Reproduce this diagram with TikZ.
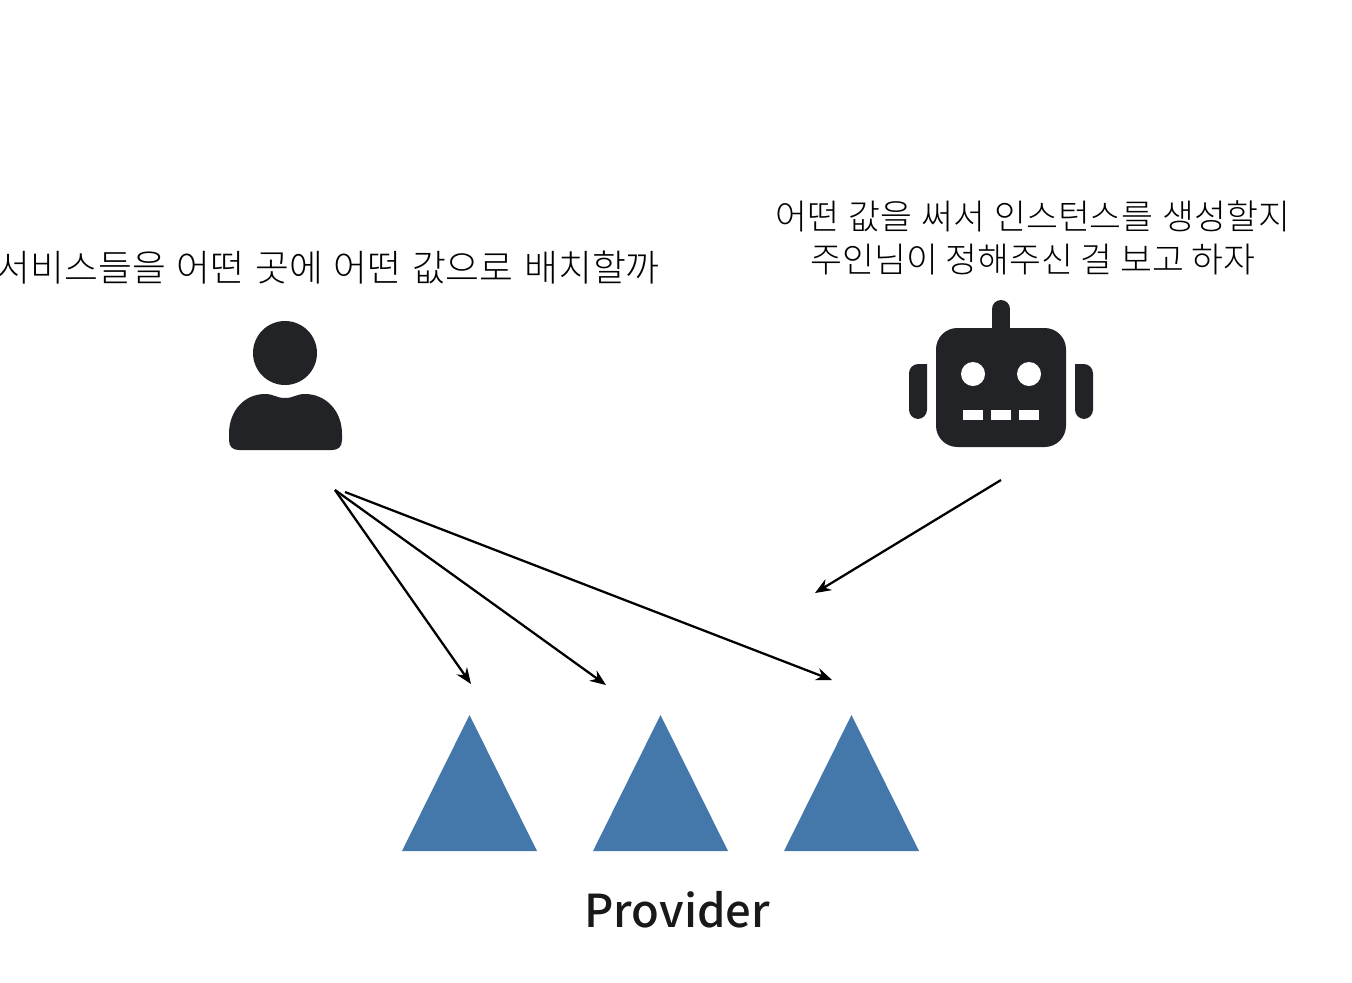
\documentclass[tikz,border=0pt]{standalone}
\usepackage{fontspec}
\newfontfamily\korean{Noto Sans CJK KR Light}
\newfontfamily\latinbold{Noto Sans CJK KR Medium}
\usetikzlibrary{arrows.meta}
\definecolor{iconblack}{RGB}{33,35,39}
\definecolor{triblue}{RGB}{68,120,171}
\tikzset{
  saying/.style={text=black, align=center, inner sep=0pt},
  pointer/.style={-{Stealth[length=12pt,width=9.5pt]}, line width=1.7pt, black},
}

\begin{document}
\begin{tikzpicture}[x=0.75pt,y=-0.75pt]
    \useasboundingbox (0,0) rectangle (1352,982);
    % Speech of the person and of the robot
    \node[saying, anchor=east, font=\korean\fontsize{27.6}{32}\selectfont] (sayperson) at (660,268) {\spaceskip 8pt\relax 서비스들을 어떤 곳에 어떤 값으로 배치할까};
    \node[saying, font=\korean\fontsize{26}{32}\selectfont] (sayrobot) at (1033,238) {\spaceskip 6.8pt\relax 어떤 값을 써서 인스턴스를 생성할지\\주인님이 정해주신 걸 보고 하자};
    % Person icon
    \fill[iconblack] (285,353) circle (32);
    \fill[iconblack] (229,434) .. controls (229,410) and (245,394) .. (265,394)
      .. controls (274,394) and (276,398) .. (285,398)
      .. controls (294,398) and (296,394) .. (305,394)
      .. controls (325,394) and (342,410) .. (342,434)
      -- (342,440) .. controls (342,447) and (338,450) .. (332,450)
      -- (239,450) .. controls (233,450) and (229,447) .. (229,440) -- cycle;
    % Robot icon
    \fill[iconblack, rounded corners=16] (936,328) rectangle (1066,447);
    \draw[iconblack, line width=13.5pt, line cap=round] (1001,309) -- (1001,335);
    \fill[iconblack, rounded corners=7] (927,364) -- (909,364) -- (909,419) -- (927,419) [sharp corners] -- cycle;
    \fill[iconblack, rounded corners=7] (1075,364) -- (1093,364) -- (1093,419) -- (1075,419) [sharp corners] -- cycle;
    \foreach \xpos in {973,1029} {
      \fill[white] (\xpos,374) circle (12);
    }
    \foreach \xpos in {963,991,1019} {
      \fill[white] (\xpos,410) rectangle ++(20,10);
    }
    % Three provider triangles
    \foreach \xpos in {469.5,660.5,851.5} {
      \fill[triblue] (\xpos,715) -- ++(67.5,136) -- ++(-135,0) -- cycle;
    }
    \node[font=\latinbold\fontsize{34}{40}\selectfont, text=black!90, inner sep=0pt] (provider) at (677,910) {Provider};
    % Arrow ends
    \coordinate (personfoot) at (335,490);
    \coordinate (personfoottwo) at (345,492);
    \coordinate (robotfoot) at (1001,480);
    \coordinate (aimone) at (471,684);
    \coordinate (aimtwo) at (606,685);
    \coordinate (aimthree) at (832,680);
    \coordinate (aimrobot) at (815,593);
    \draw[pointer] (personfoot) -- (aimone);
    \draw[pointer] (personfoot) -- (aimtwo);
    \draw[pointer] (personfoottwo) -- (aimthree);
    \draw[pointer] (robotfoot) -- (aimrobot);
\end{tikzpicture}
\end{document}
